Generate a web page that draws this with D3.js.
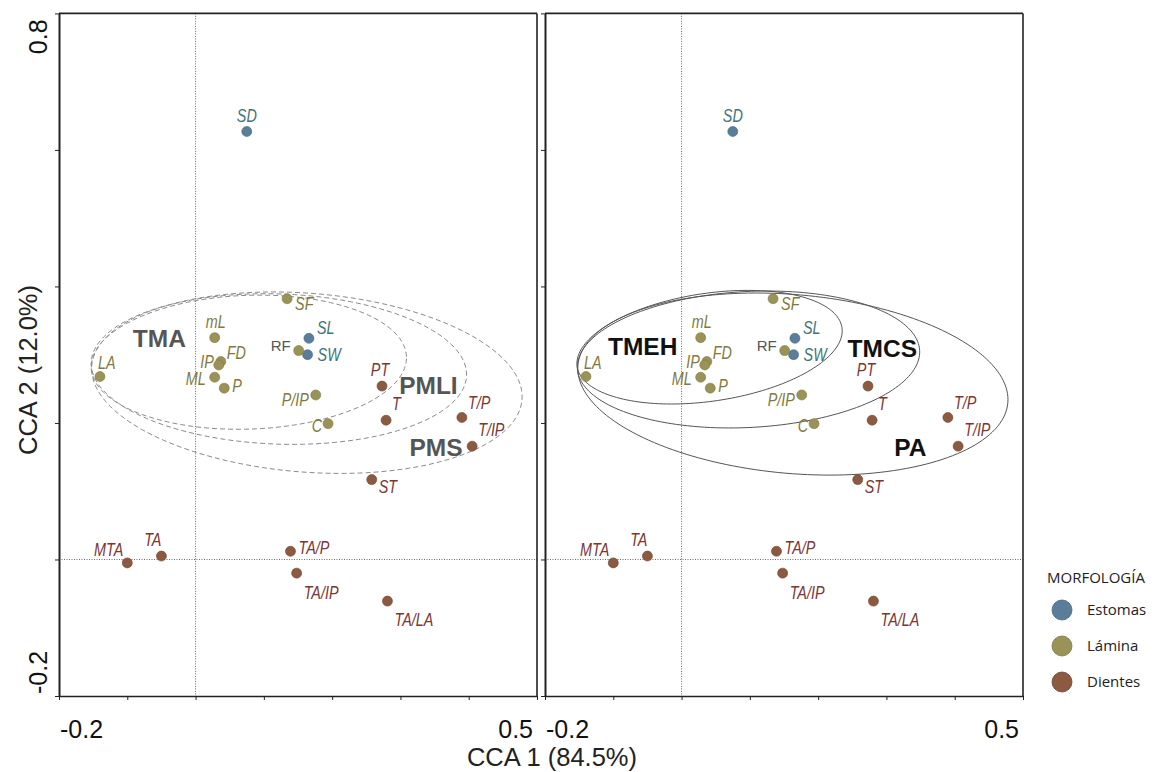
<!DOCTYPE html>
<html><head><meta charset="utf-8">
<script src="https://cdn.jsdelivr.net/npm/d3@7"></script>
<style>html,body{margin:0;padding:0;background:#fff;}svg{display:block;}</style>
</head><body>
<svg id="c" width="1152" height="772"></svg>
<script>
// ---------- data ----------
const names = ["SD","SL","SW","LA","mL","FD","IP","ML","P","SF","RF","P/IP","C","PT","T","T/P","T/IP","ST","MTA","TA","TA/P","TA/IP","TA/LA"];
const cca1  = [0.075,0.166,0.164,-0.140,0.028,0.037,0.034,0.028,0.042,0.134,0.151,0.176,0.194,0.273,0.279,0.390,0.405,0.258,-0.100,-0.050,0.139,0.148,0.281];
const cca2  = [0.627,0.324,0.300,0.268,0.325,0.290,0.285,0.267,0.251,0.382,0.306,0.241,0.199,0.254,0.204,0.208,0.166,0.117,-0.005,0.005,0.012,-0.020,-0.061];
const groupOf = ["Estomas","Estomas","Estomas","Lámina","Lámina","Lámina","Lámina","Lámina","Lámina","Lámina","Lámina","Lámina","Lámina","Dientes","Dientes","Dientes","Dientes","Dientes","Dientes","Dientes","Dientes","Dientes","Dientes"];
const groups = ["Estomas","Lámina","Dientes"];
const legendTitle = "MORFOLOGÍA";
const xTickValues = [-0.2,-0.1,0,0.1,0.2,0.3,0.4,0.5];
const yTickValues = [-0.2,0,0.2,0.4,0.6,0.8];
const xEndLabels = ["-0.2","0.5"];
const yEndLabels = ["-0.2","0.8"];
const xTitle = "CCA 1 (84.5%)";
const yTitle = "CCA 2 (12.0%)";
// ellipses (data units)
const ellName  = ["TMA","PMLI","PMS","TMEH","TMCS","PA"];
const ellPanel = [0,0,0,1,1,1];
const ellCx    = [0.078,0.122,0.163,0.041,0.098,0.163];
const ellCy    = [0.289,0.279,0.259,0.311,0.293,0.257];
const ellRx    = [0.231,0.275,0.316,0.196,0.251,0.316];
const ellRy    = [0.098,0.110,0.131,0.079,0.0996,0.131];
const ellAngle = [2,-2,-4.5,8.4,3,-5];
const ellLabelX = [-0.053,0.341,0.352,-0.057,0.294,0.335];
const ellLabelY = [0.312,0.243,0.151,0.300,0.297,0.151];

// ---------- styles / layout ----------
const fill = {"Estomas":"#5a7d9a","Lámina":"#9a9358","Dientes":"#8b5a40"};
const stroke = {"Estomas":"#46657e","Lámina":"#7d7842","Dientes":"#6e4330"};
const textCol = {"Estomas":"#3d7478","Lámina":"#7f7a3c","Dientes":"#7a3535"};
const labOff = {
 "SD":["middle",0,-9],"LA":["start",-2,-8],"mL":["middle",1,-10],"FD":["start",6,-3],"IP":["end",-5,3],
 "ML":["end",-9,8],"P":["start",8,4],"SF":["start",8,11],"SL":["start",8,-4],"RF":["end",-8,0],
 "SW":["start",10,6],"P/IP":["end",-7,11],"C":["end",-6,8],"PT":["middle",-2,-10],"T":["start",6,-10],
 "T/P":["start",6,-8],"T/IP":["start",6,-10],"ST":["start",7,13],"MTA":["end",-4,-7],"TA":["end",0,-10],
 "TA/P":["start",8,3],"TA/IP":["start",7,26],"TA/LA":["start",7,25]
};

const svg = d3.select("#c");
const y = d3.scaleLinear().domain([-0.2,0.8]).range([696,13.4]);
const xs = [d3.scaleLinear().domain([-0.2,0.5]).range([59,537]),
            d3.scaleLinear().domain([-0.2,0.5]).range([545,1023])];
const tickFont = "'Liberation Sans', Arial, sans-serif";

const pts = names.map((n,i)=>({n, x:cca1[i], y:cca2[i], g:groupOf[i]}));

xs.forEach((x,pi)=>{
  const g = svg.append("g");
  const [x0,x1] = x.range();
  const [y0,y1] = [y(0.8), y(-0.2)];
  // reference dotted lines
  g.append("line").attr("x1",x(0)).attr("x2",x(0)).attr("y1",y0).attr("y2",y1)
    .attr("stroke","#666").attr("stroke-width",1).attr("stroke-dasharray","1,1.5");
  g.append("line").attr("x1",x0).attr("x2",x1).attr("y1",y(0)).attr("y2",y(0))
    .attr("stroke","#666").attr("stroke-width",1).attr("stroke-dasharray","1,1.5");
  // ellipses
  const line = d3.line().x(d=>x(d[0])).y(d=>y(d[1])).curve(d3.curveLinearClosed);
  ellName.forEach((en,ei)=>{
    if(ellPanel[ei]!==pi) return;
    const a = ellAngle[ei]*Math.PI/180;
    const ptsE = d3.range(0,360,2).map(t=>{
      const r=t*Math.PI/180, ex=ellRx[ei]*Math.cos(r), ey=ellRy[ei]*Math.sin(r);
      return [ellCx[ei]+ex*Math.cos(a)-ey*Math.sin(a), ellCy[ei]+ex*Math.sin(a)+ey*Math.cos(a)];
    });
    g.append("path").attr("d",line(ptsE)).attr("fill","none")
      .attr("stroke", pi===0?"#8a8a8a":"#555").attr("stroke-width",1)
      .attr("stroke-dasharray", pi===0?"5,3":null);
    g.append("text").attr("x",x(ellLabelX[ei])).attr("y",y(ellLabelY[ei]))
      .attr("text-anchor","middle").attr("font-family",tickFont).attr("font-weight","bold")
      .attr("font-size",24.5).attr("fill", pi===0?"#555":"#111").text(en);
  });
  // points
  g.selectAll("circle.pt").data(pts).join("circle").attr("class","pt")
    .attr("cx",d=>x(d.x)).attr("cy",d=>y(d.y)).attr("r",5)
    .attr("fill",d=>fill[d.g]).attr("stroke",d=>stroke[d.g]).attr("stroke-width",0.6);
  g.selectAll("text.pl").data(pts).join("text").attr("class","pl")
    .attr("transform",d=>`translate(${x(d.x)+labOff[d.n][1]},${y(d.y)+labOff[d.n][2]}) scale(${d.n==="RF"?1:0.82},1)`)
    .attr("text-anchor",d=>labOff[d.n][0])
    .attr("font-family",tickFont)
    .attr("font-style",d=>d.n==="RF"?"normal":"italic")
    .attr("font-size",d=>d.n==="RF"?15:17.5)
    .attr("fill",d=>d.n==="RF"?"#555":textCol[d.g]).text(d=>d.n);
  // axes
  g.append("g").attr("transform",`translate(0,${y1})`)
    .call(d3.axisBottom(x).tickValues(xTickValues).tickSize(4).tickSizeOuter(0).tickFormat(""))
    .call(s=>{s.select(".domain").attr("stroke","#222").attr("stroke-width",1.6);s.selectAll(".tick line").attr("stroke","#222");});
  g.append("g").attr("transform",`translate(${x0},0)`)
    .call(d3.axisLeft(y).tickValues(yTickValues).tickSize(4).tickSizeOuter(0).tickFormat(""))
    .call(s=>{s.select(".domain").attr("stroke","#222").attr("stroke-width",2);s.selectAll(".tick line").attr("stroke","#222");});
  g.append("line").attr("x1",x0).attr("x2",x1).attr("y1",y0).attr("y2",y0).attr("stroke","#222").attr("stroke-width",1.6);
  g.append("line").attr("x1",x1).attr("x2",x1).attr("y1",y0).attr("y2",y1).attr("stroke","#222").attr("stroke-width",1.6);
  // x end labels
  g.append("text").attr("x",x(-0.2)+1).attr("y",738).attr("font-family",tickFont).attr("font-size",25)
    .attr("fill","#111").text(xEndLabels[0]);
  g.append("text").attr("x",x(0.5)-4).attr("y",738).attr("text-anchor","end").attr("font-family",tickFont)
    .attr("font-size",25).attr("fill","#111").text(xEndLabels[1]);
  if(pi===0){
    g.append("text").attr("transform",`translate(47,${y(-0.2)-2}) rotate(-90)`).attr("font-family",tickFont)
      .attr("font-size",25).attr("fill","#111").text(yEndLabels[0]);
    g.append("text").attr("transform",`translate(47,${y(0.8)+6}) rotate(-90)`).attr("text-anchor","end")
      .attr("font-family",tickFont).attr("font-size",25).attr("fill","#111").text(yEndLabels[1]);
  }
});

// titles
svg.append("text").attr("x",552).attr("y",766).attr("text-anchor","middle").attr("font-family",tickFont)
  .attr("font-size",25.5).attr("fill","#222").text(xTitle);
svg.append("text").attr("transform","translate(37,370) rotate(-90)").attr("text-anchor","middle")
  .attr("font-family",tickFont).attr("font-size",25.5).attr("fill","#222").text(yTitle);

// legend
const lg = svg.append("g");
lg.append("text").attr("x",1047).attr("y",583).attr("font-family","'Open Sans', sans-serif")
  .attr("font-size",15).attr("fill","#222").text(legendTitle);
groups.forEach((gname,i)=>{
  const cy = 610 + i*36;
  lg.append("circle").attr("cx",1062).attr("cy",cy).attr("r",10)
    .attr("fill",fill[gname]).attr("stroke",stroke[gname]).attr("stroke-width",0.8);
  lg.append("text").attr("x",1087).attr("y",cy+5).attr("font-family","'Open Sans', sans-serif")
    .attr("font-size",15).attr("fill","#222").text(gname);
});
</script>
</body></html>
